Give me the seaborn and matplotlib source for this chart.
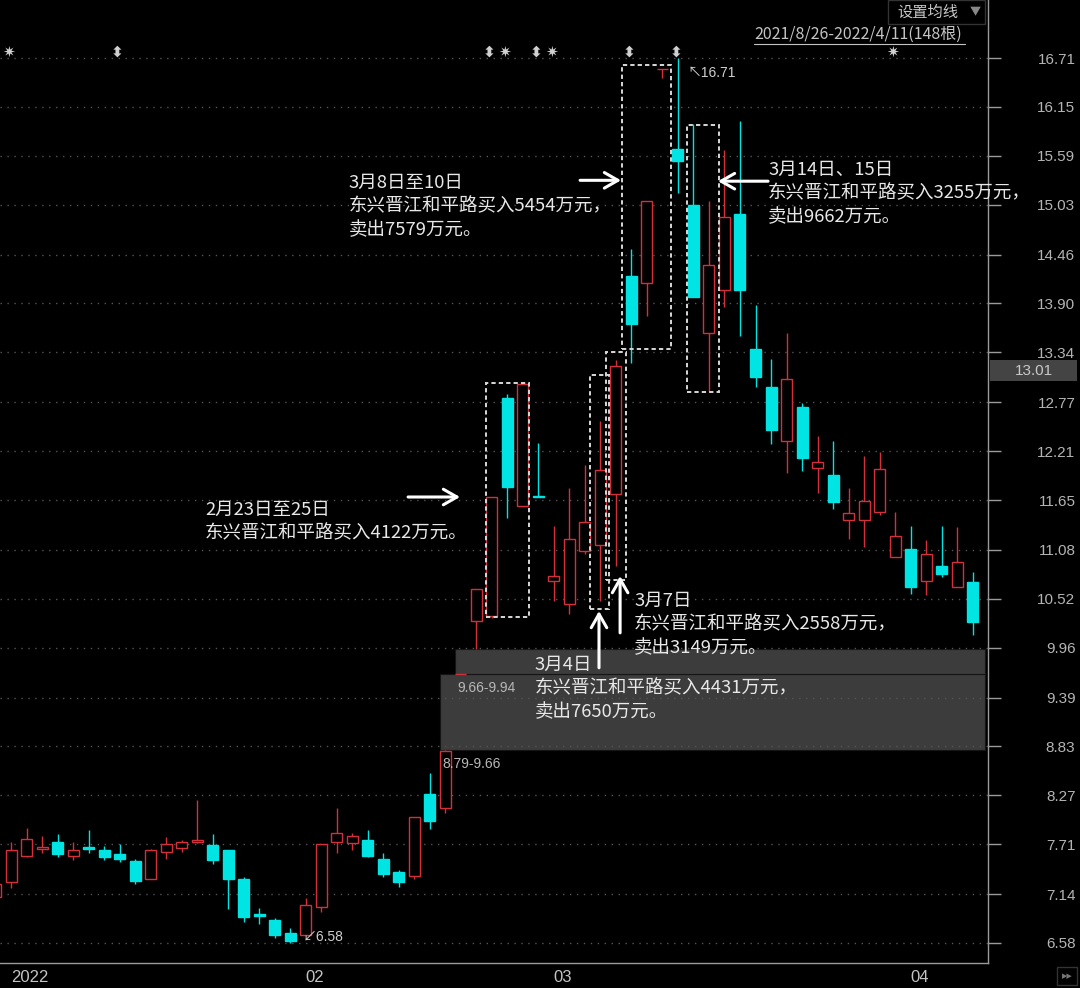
import numpy as np
import pandas as pd
import seaborn as sns
import matplotlib.pyplot as plt
from matplotlib.patches import Rectangle
from matplotlib.lines import Line2D

# 日K线: 第0根为2021年最后一个交易日, 之后 2022/1/4 ~ 2022/4/11
opens = [7.11, 7.28, 7.58, 7.66, 7.74, 7.58, 7.68, 7.65, 7.60, 7.52,
         7.31, 7.62, 7.67, 7.74, 7.70, 7.65, 7.31, 6.91, 6.84, 6.69,
         6.67, 6.99, 7.74, 7.73, 7.76, 7.54, 7.39, 7.35, 8.29, 8.12,
         9.66, 10.27, 10.32, 12.82, 11.58, 11.70, 10.72, 10.46, 11.07, 11.13,
         11.72, 14.22, 14.13, 16.58, 15.67, 15.03, 13.56, 14.06, 14.92, 13.38,
         12.94, 12.33, 12.72, 12.02, 11.94, 11.42, 11.42, 11.51, 11.00, 11.09,
         10.72, 10.90, 10.66, 10.71]
highs = [7.30, 7.74, 7.90, 7.80, 7.83, 7.74, 7.87, 7.69, 7.71, 7.54,
         7.66, 7.79, 7.76, 8.22, 7.83, 7.65, 7.33, 6.98, 6.87, 6.75,
         7.10, 7.71, 8.12, 7.84, 7.87, 7.61, 7.42, 8.02, 8.53, 8.79,
         9.66, 10.63, 11.69, 12.86, 12.98, 12.30, 11.35, 11.79, 12.05, 12.55,
         13.25, 14.52, 15.07, 16.58, 16.71, 15.96, 15.07, 15.66, 15.99, 13.88,
         13.26, 13.56, 12.76, 12.38, 12.33, 11.79, 12.15, 12.20, 11.51, 11.35,
         11.19, 11.35, 11.34, 10.83]
lows = [7.06, 7.21, 7.56, 7.61, 7.56, 7.53, 7.61, 7.53, 7.51, 7.26,
        7.31, 7.54, 7.62, 7.73, 7.48, 6.97, 6.82, 6.80, 6.64, 6.58,
        6.66, 6.93, 7.61, 7.65, 7.56, 7.34, 7.22, 7.31, 7.89, 8.07,
        9.66, 9.94, 10.30, 11.45, 11.58, 11.69, 10.50, 10.35, 11.03, 10.50,
        10.89, 13.22, 13.76, 16.48, 15.16, 13.98, 12.89, 13.86, 13.53, 12.94,
        12.29, 11.96, 11.98, 11.73, 11.55, 11.21, 11.11, 11.48, 11.00, 10.58,
        10.56, 10.77, 10.65, 10.11]
closes = [7.26, 7.64, 7.77, 7.68, 7.60, 7.65, 7.66, 7.57, 7.54, 7.29,
          7.64, 7.71, 7.74, 7.76, 7.53, 7.31, 6.88, 6.89, 6.67, 6.60,
          7.01, 7.71, 7.84, 7.80, 7.58, 7.37, 7.28, 8.02, 7.98, 8.78,
          9.66, 10.63, 11.69, 11.80, 12.98, 11.69, 10.78, 11.20, 11.40, 11.99,
          13.19, 13.67, 15.07, 16.58, 15.53, 13.98, 14.34, 14.89, 14.06, 13.06,
          12.45, 13.04, 12.13, 12.08, 11.63, 11.50, 11.64, 12.01, 11.24, 10.65,
          11.03, 10.80, 10.94, 10.25]

# 月份刻度 (K线序号)
month_pos = [1, 20, 36, 59]
month_labels = ["2022", "02", "03", "04"]

# 右侧价格刻度
price_ticks = [6.58, 7.14, 7.71, 8.27, 8.83, 9.39, 9.96, 10.52, 11.08, 11.65,
               12.21, 12.77, 13.34, 13.90, 14.46, 15.03, 15.59, 16.15, 16.71]

# 顶部信息地雷
mine_pos = [1, 8, 32, 33, 35, 36, 41, 44, 58]
mine_kind = ["star", "arrow", "arrow", "star", "arrow", "star", "arrow", "arrow", "star"]

cursor_price = 13.01
range_text = "2021/8/26-2022/4/11(148根)"

# 龙虎榜说明
note_c = ["2月23日至25日", "东兴晋江和平路买入4122万元。"]
note_e = ["3月4日", "东兴晋江和平路买入4431万元，", "卖出7650万元。"]
note_d = ["3月7日", "东兴晋江和平路买入2558万元，", "卖出3149万元。"]
note_a = ["3月8日至10日", "东兴晋江和平路买入5454万元，", "卖出7579万元。"]
note_b = ["3月14日、15日", "东兴晋江和平路买入3255万元，", "卖出9662万元。"]

RED = "#d4303c"
CYAN = "#00e4e4"
TXT = "#e8e8e8"
AXC = "#9a9a9a"

sns.set_theme(style="dark", rc={
    "axes.facecolor": "black", "figure.facecolor": "black",
    "axes.edgecolor": AXC, "text.color": TXT,
    "xtick.color": AXC, "ytick.color": AXC,
})
plt.rcParams["font.family"] = ["Noto Sans CJK SC", "DejaVu Sans"]

df = pd.DataFrame({"open": opens, "high": highs, "low": lows, "close": closes})
df["idx"] = np.arange(len(df))
df["up"] = df["close"] >= df["open"]
df["color"] = np.where(df["up"], RED, CYAN)

fig = plt.figure(figsize=(10.8, 9.88), dpi=100)
ax = fig.add_axes([0, 25 / 988, 988 / 1080, 963 / 988])
ax.set_xlim(0.29, 63.99)
ax.set_ylim(6.351, 17.374)

# 影线 + 实体
ax.vlines(df["idx"], df["low"], df["high"], colors=df["color"], lw=1.0, zorder=2)
body_lo = df[["open", "close"]].min(axis=1)
body_h = (df["close"] - df["open"]).abs()
ax.bar(df["idx"], body_h, bottom=body_lo, width=0.71,
       color=np.where(df["up"], "black", CYAN), edgecolor=df["color"],
       linewidth=1.0, zorder=3)

# 未回补缺口
x_right = ax.get_xlim()[1] - 0.2
for i in range(len(df) - 1):
    lo, hi = highs[i], lows[i + 1]
    if hi > lo and min(lows[i + 1:]) >= hi:
        ax.add_patch(Rectangle((i - 0.355, lo), x_right - (i - 0.355), hi - lo,
                               facecolor="#3c3c3c", edgecolor="#151515", lw=0.8, zorder=0.3))
        ax.annotate(f"{lo:.2f}-{hi:.2f}", (i - 0.355, lo), xytext=(1.5, -5),
                    textcoords="offset points", va="top", ha="left",
                    fontsize=10, color="#b8b8b8", family=["Liberation Sans"], zorder=4)

# 网格与坐标轴
ax.set_yticks(price_ticks, labels=[f"{v:.2f}" for v in price_ticks])
ax.yaxis.tick_right()
ax.tick_params(axis="y", length=9, width=1, pad=54, labelsize=11,
               labelcolor="#b4b4b4", labelfontfamily="Liberation Sans")
for t in ax.get_yticklabels():
    t.set_ha("right")
ax.yaxis.grid(True, linestyle=(0, (1, 4)), color="#555555", lw=1.0)
ax.xaxis.grid(False)
ax.set_xticks(month_pos, labels=month_labels)
ax.tick_params(axis="x", length=5, width=1, pad=0, labelsize=12,
               labelcolor="#c4c4c4", labelfontfamily="Liberation Sans")
for t in ax.get_xticklabels():
    t.set_ha("left")
for s in ["top", "left"]:
    ax.spines[s].set_visible(False)
for s in ["bottom", "right"]:
    ax.spines[s].set_color(AXC)
    ax.spines[s].set_linewidth(1.0)

# 最高/最低价标注
imax = int(np.argmax(highs))
imin = int(np.argmin(lows))
ax.annotate(f"↖{highs[imax]:.2f}", (imax, highs[imax]), xytext=(7, -11),
            textcoords="offset points", va="center", ha="left", fontsize=10,
            color="#cfcfcf", family=["Liberation Sans", "Noto Sans CJK SC", "DejaVu Sans"])
ax.annotate(f"↙{lows[imin]:.2f}", (imin, lows[imin]), xytext=(9, 4),
            textcoords="offset points", va="center", ha="left", fontsize=10,
            color="#cfcfcf", family=["Liberation Sans", "Noto Sans CJK SC", "DejaVu Sans"])

# 信息地雷
glyph = {"star": "✷", "arrow": "⬍"}
for p, k in zip(mine_pos, mine_kind):
    ax.text(p - 0.15, 0.946, glyph[k], transform=ax.get_xaxis_transform(),
            ha="center", va="center", fontsize=11, color="#d0d0d0",
            family=["DejaVu Sans"], fontweight="bold")

# 虚线框
def dash_box(x0, x1, y0, y1):
    ax.add_patch(Rectangle((x0, y0), x1 - x0, y1 - y0, fill=False,
                           edgecolor="#d8d8d8", lw=1.4, linestyle=(0, (2.2, 1.6)), zorder=4))

dash_box(31.63, 34.40, 10.31, 12.99)
dash_box(38.33, 39.56, 10.40, 13.08)
dash_box(39.36, 40.65, 10.73, 13.34)
dash_box(40.39, 43.55, 13.38, 16.63)
dash_box(44.58, 46.65, 12.89, 15.94)

# 箭头
def arrow(x0, y0, x1, y1):
    ax.annotate("", xy=(x1, y1), xytext=(x0, y0),
                arrowprops=dict(arrowstyle="->,head_length=0.7,head_width=0.4",
                                color="white", lw=2.2, mutation_scale=14,
                                shrinkA=0, shrinkB=0), zorder=5)

arrow(26.60, 11.685, 29.95, 11.685)
arrow(37.69, 15.31, 40.33, 15.31)
arrow(49.81, 15.30, 46.58, 15.30)
arrow(38.91, 9.73, 38.91, 10.38)
arrow(40.27, 10.13, 40.27, 10.78)

# 文字说明
def note(x, y, lines):
    for k, s in enumerate(lines):
        ax.annotate(s, (x, y), xytext=(0, -k * 16.9), textcoords="offset points",
                    ha="left", va="center", fontsize=13.3, color=TXT, zorder=6)

note(13.51, 11.536, note_c)
note(34.78, 9.762, note_e)
note(41.17, 10.495, note_d)
note(22.79, 15.279, note_a)
note(49.81, 15.43, note_b)

# 右侧当前价格框
trans = ax.get_yaxis_transform()
ax.add_patch(Rectangle((1.002, cursor_price), 0.088, 0.24, transform=trans,
                       facecolor="#444444", edgecolor="none", clip_on=False, zorder=5))
ax.text(1.046, cursor_price + 0.12, f"{cursor_price:.2f}", transform=trans,
        ha="center", va="center", fontsize=11, color="#c8c8c8",
        family=["Liberation Sans"], clip_on=False, zorder=6)

# 顶部区间与按钮
fig.text(754 / 1080, 1 - 34 / 988, range_text, ha="left", va="center",
         fontsize=11.5, color="#c4c4c4")
fig.add_artist(Line2D([754 / 1080, 965 / 1080], [1 - 44 / 988] * 2, color="#c4c4c4", lw=0.8))
fig.add_artist(Rectangle((888 / 1080, 1 - 24 / 988), 97 / 1080, 24 / 988,
                         transform=fig.transFigure, fill=False, edgecolor="#333333", lw=1))
fig.text(897 / 1080, 1 - 12 / 988, "设置均线", ha="left", va="center",
         fontsize=11, color="#c8c8c8")
fig.text(975 / 1080, 1 - 12 / 988, "▼", ha="center", va="center",
         fontsize=8, color="#888888")
fig.add_artist(Rectangle((1057 / 1080, 1 - 985 / 988), 20 / 1080, 18 / 988,
                         transform=fig.transFigure, fill=False, edgecolor="#333333", lw=1))
fig.text(1067 / 1080, 1 - 976 / 988, "▶▶", ha="center", va="center",
         fontsize=5, color="#777777", family=["DejaVu Sans"])

fig.savefig("out.png", dpi=100, facecolor="black")
